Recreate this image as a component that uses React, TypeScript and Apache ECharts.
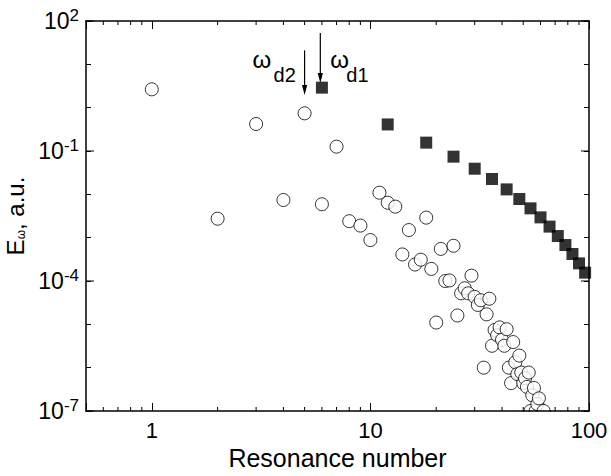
import React, { useEffect, useRef } from 'react';
import * as echarts from 'echarts';

const X_MIN = 0.5;
const X_MAX = 100;
const Y_MIN = 1e-7;
const Y_MAX = 1e2;

// filled squares
const squareX = [6, 12, 18, 24, 30, 36, 42, 48, 54, 60, 66, 72, 78, 84, 90, 96];
const squareY = [2.9, 0.41, 0.156, 0.074, 0.039, 0.0226, 0.013, 0.0078, 0.00475, 0.00294, 0.0018, 0.00109, 0.000676, 0.00042, 0.000255, 0.000156];

// open circles
const circleX = [1, 2, 3, 4, 5, 6, 7, 8, 9, 10, 11, 12, 13, 14, 15, 16, 17, 18, 19, 20, 21, 22, 23, 24, 25, 26, 27, 28, 29, 30, 31, 32, 33, 34, 35, 36, 37, 38, 39, 40, 41, 42, 43, 44, 45, 46, 47, 48, 49, 50, 51, 52, 53, 54, 55, 56, 57, 58, 59, 62];
const circleY = [2.65, 0.00274, 0.42, 0.0074, 0.74, 0.0059, 0.126, 0.0024, 0.0019, 0.00088, 0.0109, 0.0064, 0.0052, 0.00041, 0.0015, 0.00024, 0.00031, 0.0029, 0.00019, 1.1e-5, 0.00055, 1.0e-4, 1.03e-4, 0.00065, 1.6e-5, 5.2e-5, 6.8e-5, 5.2e-5, 0.000133, 4.3e-5, 2.8e-5, 3.6e-5, 1.0e-6, 1.7e-5, 3.9e-5, 3.2e-6, 7.4e-6, 5.6e-6, 8.5e-6, 4.4e-6, 3.2e-6, 7.7e-6, 1.0e-6, 4.4e-7, 3.9e-6, 1.33e-6, 7.1e-7, 1.9e-6, 7.7e-7, 4.4e-7, 5.7e-7, 3.6e-7, 7.7e-7, 1.0e-7, 2.3e-7, 3.4e-7, 1.0e-7, 1.45e-7, 1.96e-7, 1.0e-7];

// tick values
const xMinorTicks = [0.6, 0.7, 0.8, 0.9, 2, 3, 4, 5, 6, 7, 8, 9, 20, 30, 40, 50, 60, 70, 80, 90];
const yMajorTicks = [1e-7, 1e-4, 1e-1, 1e2];

// annotations (arrows pointing at resonances)
const annX = [5, 5.9];
const annTop = [21, 53];
const annTip = [1.96, 3.7];
const annSub = ['d2', 'd1'];
const annOmegaY = 12.6;
const annSubY = 5.7;

const FONT = "'Liberation Sans', Arial, sans-serif";

export default function App() {
  const ref = useRef<HTMLDivElement>(null);

  useEffect(() => {
    if (!ref.current) return;
    const chart = echarts.init(ref.current, null, { renderer: 'svg' });

    const xLabel = (v: number) => {
      const l = Math.log10(v);
      return Math.abs(l - Math.round(l)) < 1e-6 ? String(Math.round(v)) : '';
    };
    const yLabel = (v: number) => {
      const e = Math.round(Math.log10(v));
      if (((e + 7) % 3 + 3) % 3 !== 0) return '';
      return `{b|10}{sup|${e}}`;
    };

    const axisLine = { show: true, lineStyle: { color: '#000', width: 1.5 } };

    const option: any = {
      animation: false,
      backgroundColor: '#fff',
      textStyle: { fontFamily: FONT },
      grid: { left: 86, right: 22, top: 21, bottom: 65, outerBoundsMode: 'none' },
      xAxis: [
        {
          type: 'log', min: X_MIN, max: X_MAX, position: 'bottom',
          axisLine, splitLine: { show: false },
          axisTick: { show: true, inside: true, length: 8, lineStyle: { color: '#000', width: 1 } },
          axisLabel: { formatter: xLabel, color: '#000', fontSize: 22, fontFamily: FONT, margin: 8, showMinLabel: true },
          name: 'Resonance number', nameLocation: 'middle', nameGap: 32,
          nameTextStyle: { fontSize: 25, color: '#000', fontFamily: FONT },
          z: 10,
        },
        {
          type: 'log', min: X_MIN, max: X_MAX, position: 'top',
          axisLine, splitLine: { show: false },
          axisTick: { show: true, inside: true, length: 8, lineStyle: { color: '#000', width: 1 } },
          axisLabel: { show: false },
        },
      ],
      yAxis: [
        {
          type: 'log', min: Y_MIN, max: Y_MAX, position: 'left',
          axisLine, splitLine: { show: false },
          axisTick: { show: true, inside: true, length: 5, lineStyle: { color: '#000', width: 1 } },
          axisLabel: {
            formatter: yLabel, color: '#000', margin: 7, fontFamily: FONT,
            rich: {
              b: { fontSize: 23, color: '#000', fontFamily: FONT, lineHeight: 28 },
              sup: { fontSize: 17, color: '#000', fontFamily: FONT, verticalAlign: 'top', lineHeight: 17 },
            },
          },
          name: 'E{sub|ω}, a.u.', nameLocation: 'middle', nameGap: 52,
          nameTextStyle: {
            fontSize: 24, color: '#000', fontFamily: FONT,
            rich: {
              sub: { fontSize: 12, color: '#000', fontFamily: FONT, verticalAlign: 'bottom', lineHeight: 12 },
            },
          },
        },
        {
          type: 'log', min: Y_MIN, max: Y_MAX, position: 'right',
          axisLine, splitLine: { show: false },
          axisTick: { show: true, inside: true, length: 5, lineStyle: { color: '#000', width: 1 } },
          axisLabel: { show: false },
        },
      ],
      series: [
        {
          type: 'custom', name: 'xMinor', xAxisIndex: 0, yAxisIndex: 0, clip: false, silent: true,
          data: xMinorTicks.map((v) => [v, Y_MIN]),
          encode: { x: 0, y: 1 },
          renderItem: (_p: any, api: any) => {
            const v = api.value(0);
            const b = api.coord([v, Y_MIN]);
            const t = api.coord([v, Y_MAX]);
            return {
              type: 'group',
              children: [
                { type: 'line', shape: { x1: b[0], y1: b[1], x2: b[0], y2: b[1] - 4 }, style: { stroke: '#000', lineWidth: 1 } },
                { type: 'line', shape: { x1: t[0], y1: t[1], x2: t[0], y2: t[1] + 4 }, style: { stroke: '#000', lineWidth: 1 } },
              ],
            };
          },
        },
        {
          type: 'custom', name: 'yMajor', xAxisIndex: 0, yAxisIndex: 0, clip: false, silent: true,
          data: yMajorTicks.map((v) => [X_MIN, v]),
          encode: { x: 0, y: 1 },
          renderItem: (_p: any, api: any) => {
            const v = api.value(1);
            const l = api.coord([X_MIN, v]);
            const r = api.coord([X_MAX, v]);
            return {
              type: 'group',
              children: [
                { type: 'line', shape: { x1: l[0], y1: l[1], x2: l[0] + 8, y2: l[1] }, style: { stroke: '#000', lineWidth: 1 } },
                { type: 'line', shape: { x1: r[0], y1: r[1], x2: r[0] - 8, y2: r[1] }, style: { stroke: '#000', lineWidth: 1 } },
              ],
            };
          },
        },
        {
          type: 'scatter', name: 'squares', xAxisIndex: 0, yAxisIndex: 0,
          symbol: 'rect', symbolSize: 12, clip: false,
          itemStyle: { color: '#000' },
          data: squareX.map((x, i) => [x, squareY[i]]),
        },
        {
          type: 'scatter', name: 'circles', xAxisIndex: 0, yAxisIndex: 0,
          symbol: 'circle', symbolSize: 13, clip: false,
          itemStyle: { color: '#fff', borderColor: '#000', borderWidth: 1 },
          data: circleX.map((x, i) => [x, circleY[i]]),
        },
      ],
    };

    chart.setOption(option);

    const finder = { xAxisIndex: 0, yAxisIndex: 0 };
    const graphics: any[] = [];

    // white mask hiding the parts of markers that fall below the bottom axis
    const bl = chart.convertToPixel(finder, [X_MIN, Y_MIN]) as number[];
    const br = chart.convertToPixel(finder, [X_MAX, Y_MIN]) as number[];
    graphics.push({
      type: 'rect',
      shape: { x: bl[0] + 1, y: bl[1] + 1, width: br[0] - bl[0] - 2, height: 8 },
      style: { fill: '#fff' },
      z: 50,
      silent: true,
    });

    annX.forEach((x, i) => {
      const top = chart.convertToPixel(finder, [x, annTop[i]]) as number[];
      const tip = chart.convertToPixel(finder, [x, annTip[i]]) as number[];
      graphics.push({
        type: 'line',
        shape: { x1: top[0], y1: top[1], x2: tip[0], y2: tip[1] - 8 },
        style: { stroke: '#000', lineWidth: 1.2 },
        z: 100,
      });
      graphics.push({
        type: 'polygon',
        shape: { points: [[tip[0] - 2.6, tip[1] - 10], [tip[0] + 2.6, tip[1] - 10], [tip[0], tip[1]]] },
        style: { fill: '#000' },
        z: 100,
      });
      const om = chart.convertToPixel(finder, [x, annOmegaY]) as number[];
      const sb = chart.convertToPixel(finder, [x, annSubY]) as number[];
      const left = i === 0;
      graphics.push({
        type: 'text',
        x: left ? om[0] - 52 : om[0] + 10,
        y: om[1],
        style: { text: 'ω', font: `24px ${FONT}`, fill: '#000', textVerticalAlign: 'middle', verticalAlign: 'middle' },
        z: 100,
      });
      graphics.push({
        type: 'text',
        x: left ? sb[0] - 31 : sb[0] + 26,
        y: sb[1],
        style: { text: annSub[i], font: `20px ${FONT}`, fill: '#000', textVerticalAlign: 'middle', verticalAlign: 'middle' },
        z: 100,
      });
    });
    chart.setOption({ graphic: graphics });

    return () => chart.dispose();
  }, []);

  return (
    <div
      ref={ref}
      style={{ position: 'fixed', left: 0, top: 0, width: 611, height: 476, background: '#fff' }}
    />
  );
}
